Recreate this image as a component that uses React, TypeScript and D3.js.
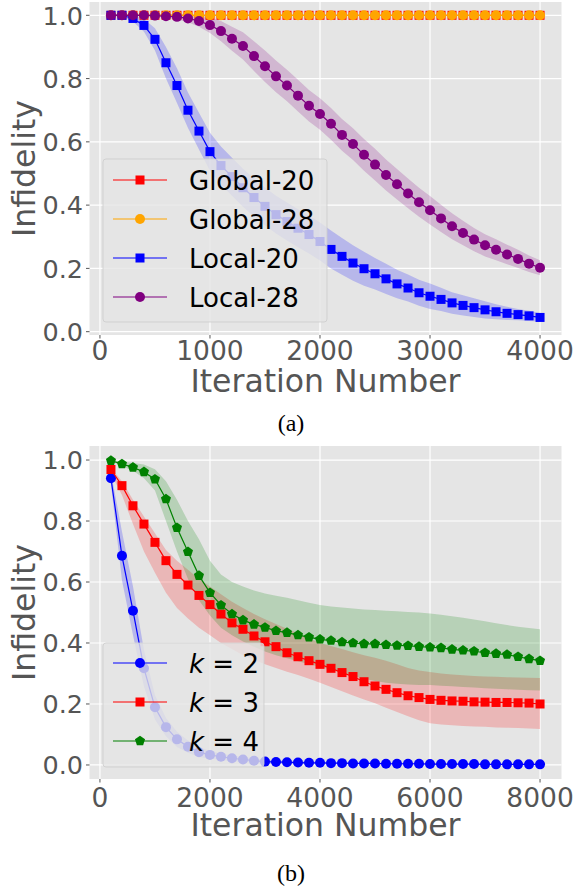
import React from "react";
import * as d3 from "d3";

// iteration grids
const topIters = d3.range(100, 4001, 100);
const bottomIters = d3.range(200, 8001, 200);

// (a) values
const global20 = [
  1, 1, 1, 1, 1, 1, 1, 1, 1, 1, 1, 1, 1, 1, 1, 1, 1, 1, 1, 1,
  1, 1, 1, 1, 1, 1, 1, 1, 1, 1, 1, 1, 1, 1, 1, 1, 1, 1, 1, 1,
];
const global28 = [
  1, 1, 1, 1, 1, 1, 1, 1, 1, 1, 1, 1, 1, 1, 1, 1, 1, 1, 1, 1,
  1, 1, 1, 1, 1, 1, 1, 1, 1, 1, 1, 1, 1, 1, 1, 1, 1, 1, 1, 1,
];
const local20 = [
  1.0, 1.0, 0.99, 0.968, 0.924, 0.85, 0.778, 0.7, 0.634, 0.569,
  0.525, 0.49, 0.455, 0.424, 0.396, 0.37, 0.348, 0.327, 0.307, 0.285,
  0.26, 0.238, 0.217, 0.199, 0.183, 0.167, 0.151, 0.138, 0.123, 0.112,
  0.102, 0.091, 0.083, 0.076, 0.069, 0.063, 0.058, 0.054, 0.05, 0.045,
];
const local20Std = [
  0.002, 0.005, 0.01, 0.02, 0.035, 0.05, 0.055, 0.056, 0.058, 0.06,
  0.06, 0.06, 0.06, 0.06, 0.06, 0.06, 0.06, 0.06, 0.06, 0.06,
  0.06, 0.058, 0.056, 0.054, 0.05, 0.048, 0.045, 0.043, 0.041, 0.04,
  0.037, 0.034, 0.032, 0.03, 0.027, 0.024, 0.021, 0.018, 0.016, 0.014,
];
const local28 = [
  1.0, 1.0, 1.0, 1.0, 0.999, 0.997, 0.995, 0.99, 0.982, 0.969,
  0.95, 0.926, 0.903, 0.871, 0.839, 0.807, 0.778, 0.746, 0.714, 0.688,
  0.657, 0.622, 0.593, 0.559, 0.528, 0.495, 0.466, 0.437, 0.409, 0.384,
  0.358, 0.333, 0.312, 0.291, 0.273, 0.259, 0.244, 0.23, 0.215, 0.202,
];
const local28Std = [
  0.002, 0.002, 0.003, 0.003, 0.004, 0.005, 0.008, 0.012, 0.018, 0.025,
  0.032, 0.038, 0.043, 0.047, 0.05, 0.05, 0.05, 0.05, 0.05, 0.05,
  0.05, 0.05, 0.05, 0.05, 0.05, 0.049, 0.048, 0.047, 0.046, 0.045,
  0.043, 0.041, 0.039, 0.037, 0.035, 0.033, 0.031, 0.029, 0.026, 0.024,
];

// (b) values
const k2 = [
  0.94, 0.686, 0.506, 0.317, 0.189, 0.124, 0.084, 0.06, 0.042, 0.033,
  0.027, 0.022, 0.018, 0.014, 0.011, 0.01, 0.009, 0.008, 0.007, 0.007,
  0.006, 0.006, 0.005, 0.005, 0.005, 0.004, 0.004, 0.004, 0.004, 0.003,
  0.003, 0.003, 0.003, 0.003, 0.002, 0.002, 0.002, 0.002, 0.002, 0.002,
];
const k2Std = [
  0.02, 0.08, 0.08, 0.06, 0.04, 0.03, 0.025, 0.02, 0.016, 0.013,
  0.011, 0.009, 0.008, 0.007, 0.006, 0.005, 0.005, 0.005, 0.004, 0.004,
  0.004, 0.004, 0.003, 0.003, 0.003, 0.003, 0.003, 0.003, 0.003, 0.003,
  0.003, 0.003, 0.003, 0.003, 0.002, 0.002, 0.002, 0.002, 0.002, 0.002,
];
const k3 = [
  0.969, 0.916, 0.85, 0.79, 0.73, 0.67, 0.625, 0.59, 0.556, 0.526,
  0.495, 0.466, 0.445, 0.423, 0.404, 0.388, 0.368, 0.355, 0.342, 0.33,
  0.317, 0.303, 0.29, 0.273, 0.259, 0.248, 0.237, 0.227, 0.221, 0.215,
  0.212, 0.21, 0.209, 0.207, 0.206, 0.205, 0.205, 0.204, 0.203, 0.2,
];
const k3Lower = [
  0.955, 0.885, 0.79, 0.7, 0.63, 0.565, 0.515, 0.48, 0.45, 0.425,
  0.4, 0.38, 0.36, 0.345, 0.33, 0.318, 0.306, 0.295, 0.283, 0.27,
  0.256, 0.242, 0.228, 0.215, 0.202, 0.188, 0.174, 0.16, 0.147, 0.137,
  0.133, 0.13, 0.128, 0.126, 0.125, 0.123, 0.122, 0.121, 0.12, 0.118,
];
const k3Upper = [
  0.975, 0.93, 0.87, 0.815, 0.76, 0.705, 0.67, 0.64, 0.61, 0.585,
  0.56, 0.535, 0.515, 0.495, 0.478, 0.462, 0.447, 0.432, 0.415, 0.4,
  0.39, 0.38, 0.37, 0.36, 0.352, 0.342, 0.33, 0.318, 0.31, 0.305,
  0.3, 0.297, 0.294, 0.292, 0.29, 0.289, 0.288, 0.287, 0.286, 0.285,
];
const k4 = [
  0.998, 0.987, 0.976, 0.961, 0.937, 0.872, 0.778, 0.699, 0.621, 0.565,
  0.524, 0.495, 0.475, 0.461, 0.451, 0.44, 0.434, 0.426, 0.419, 0.412,
  0.408, 0.403, 0.4, 0.397, 0.397, 0.394, 0.392, 0.391, 0.388, 0.386,
  0.384, 0.379, 0.376, 0.373, 0.368, 0.365, 0.362, 0.355, 0.348, 0.342,
];
const k4Lower = [
  0.996, 0.98, 0.965, 0.94, 0.9, 0.8, 0.7, 0.61, 0.54, 0.49,
  0.45, 0.425, 0.405, 0.388, 0.372, 0.36, 0.35, 0.34, 0.33, 0.322,
  0.312, 0.302, 0.292, 0.283, 0.275, 0.27, 0.266, 0.264, 0.262, 0.262,
  0.26, 0.258, 0.256, 0.254, 0.252, 0.25, 0.248, 0.247, 0.245, 0.244,
];
const k4Upper = [
  1.0, 0.995, 0.99, 0.985, 0.97, 0.93, 0.87, 0.8, 0.74, 0.67,
  0.625, 0.6, 0.585, 0.572, 0.562, 0.555, 0.548, 0.54, 0.532, 0.525,
  0.52, 0.516, 0.513, 0.51, 0.508, 0.506, 0.504, 0.502, 0.5, 0.497,
  0.493, 0.488, 0.483, 0.477, 0.471, 0.465, 0.459, 0.453, 0.449, 0.445,
];

const topXTicks = [0, 1000, 2000, 3000, 4000];
const bottomXTicks = [0, 2000, 4000, 6000, 8000];
const yTicks = [0, 0.2, 0.4, 0.6, 0.8, 1.0];

const FONT = "DejaVu Sans";
const TXT = "#555555";
const BG = "#E5E5E5";

type Marker = "square" | "circle" | "pentagon";
type Series = {
  label: React.ReactNode;
  color: string;
  marker: Marker;
  values: number[];
  lower: number[];
  upper: number[];
};

const withStd = (v: number[], s: number[]) => ({
  lower: v.map((d, i) => d - s[i]),
  upper: v.map((d, i) => d + s[i]),
});

const topSeries: Series[] = [
  { label: "Global-20", color: "red", marker: "square", values: global20, lower: global20, upper: global20 },
  { label: "Global-28", color: "orange", marker: "circle", values: global28, lower: global28, upper: global28 },
  { label: "Local-20", color: "blue", marker: "square", values: local20, ...withStd(local20, local20Std) },
  { label: "Local-28", color: "purple", marker: "circle", values: local28, ...withStd(local28, local28Std) },
];

const kLabel = (k: number) => (
  <>
    <tspan fontStyle="italic">k</tspan>
    <tspan> = {k}</tspan>
  </>
);

const bottomSeries: Series[] = [
  { label: kLabel(2), color: "blue", marker: "circle", values: k2, ...withStd(k2, k2Std) },
  { label: kLabel(3), color: "red", marker: "square", values: k3, lower: k3Lower, upper: k3Upper },
  { label: kLabel(4), color: "green", marker: "pentagon", values: k4, lower: k4Lower, upper: k4Upper },
];

function MarkerShape({ type, x, y, color }: { type: Marker; x: number; y: number; color: string }) {
  if (type === "square") {
    return <rect x={x - 4.5} y={y - 4.5} width={9} height={9} fill={color} />;
  }
  if (type === "circle") {
    return <circle cx={x} cy={y} r={5} fill={color} />;
  }
  const r = 5.3;
  const pts = d3.range(5).map((i) => {
    const a = -Math.PI / 2 + (i * 2 * Math.PI) / 5;
    return [x + r * Math.cos(a), y + r * Math.sin(a)];
  });
  return <polygon points={pts.map((p) => p.join(",")).join(" ")} fill={color} />;
}

type PanelProps = {
  top: number;
  iters: number[];
  xDomain: [number, number];
  yDomain: [number, number];
  xTicks: number[];
  series: Series[];
  legendBox: { x: number; y: number; w: number; h: number };
  legendRow0: number;
  caption: string;
  xTickDy: number;
  captionDy: number;
};

function Panel(p: PanelProps) {
  const left = 89.5;
  const right = 561.5;
  const height = 333;
  const bottom = p.top + height;
  const x = d3.scaleLinear().domain(p.xDomain).range([left, right]);
  const y = d3.scaleLinear().domain(p.yDomain).range([bottom, p.top]);

  const line = d3
    .line<number>()
    .x((_, i) => x(p.iters[i]))
    .y((d) => y(d));

  const band = (s: Series) =>
    d3
      .area<number>()
      .x((_, i) => x(p.iters[i]))
      .y0((_, i) => y(s.lower[i]))
      .y1((_, i) => y(s.upper[i]))(s.values) || "";

  const lg = p.legendBox;

  return (
    <g>
      <rect x={left} y={p.top} width={right - left} height={height} fill={BG} />
      {p.xTicks.map((t) => (
        <line key={"gx" + t} x1={x(t)} x2={x(t)} y1={p.top} y2={bottom} stroke="white" strokeWidth={1.2} />
      ))}
      {yTicks.map((t) => (
        <line key={"gy" + t} x1={left} x2={right} y1={y(t)} y2={y(t)} stroke="white" strokeWidth={1.2} />
      ))}

      {p.series.map((s, i) => (
        <path key={"b" + i} d={band(s)} fill={s.color} fillOpacity={0.2} stroke="none" />
      ))}
      {p.series.map((s, i) => (
        <g key={"s" + i}>
          <path d={line(s.values) || ""} fill="none" stroke={s.color} strokeWidth={1.2} />
          {s.values.map((v, j) => (
            <MarkerShape key={j} type={s.marker} x={x(p.iters[j])} y={y(v)} color={s.color} />
          ))}
        </g>
      ))}

      {/* legend */}
      <rect x={lg.x} y={lg.y} width={lg.w} height={lg.h} rx={3} fill={BG} fillOpacity={0.8} stroke="#cccccc" strokeOpacity={0.8} />
      {p.series.map((s, i) => {
        const cy = p.legendRow0 + i * 39;
        return (
          <g key={"l" + i}>
            <line x1={lg.x + 10} x2={lg.x + 64} y1={cy} y2={cy} stroke={s.color} strokeWidth={1.2} />
            <MarkerShape type={s.marker} x={lg.x + 37} y={cy} color={s.color} />
            <text x={lg.x + 86} y={cy + 9.5} fontSize={26} fontFamily={FONT} fill="black">
              {s.label}
            </text>
          </g>
        );
      })}

      {/* axes */}
      {yTicks.map((t) => (
        <g key={"ty" + t}>
          <line x1={left - 3.5} x2={left} y1={y(t)} y2={y(t)} stroke={TXT} strokeWidth={1} />
          <text x={left - 6.5} y={y(t) + 9.3} textAnchor="end" fontSize={25.5} fontFamily={FONT} fill={TXT}>
            {t.toFixed(1)}
          </text>
        </g>
      ))}
      {p.xTicks.map((t) => (
        <g key={"tx" + t}>
          <line x1={x(t)} x2={x(t)} y1={bottom} y2={bottom + 3.5} stroke={TXT} strokeWidth={1} />
          <text x={x(t)} y={bottom + p.xTickDy} textAnchor="middle" fontSize={26.5} fontFamily={FONT} fill={TXT}>
            {t}
          </text>
        </g>
      ))}
      <text
        transform={`translate(35,${(p.top + bottom) / 2}) rotate(-90)`}
        textAnchor="middle"
        fontSize={31.5}
        fontFamily={FONT}
        fill={TXT}
      >
        Infidelity
      </text>
      <text x={(left + right) / 2} y={bottom + 57} textAnchor="middle" fontSize={31.5} fontFamily={FONT} fill={TXT}>
        Iteration Number
      </text>
      <text
        x={291}
        y={bottom + p.captionDy}
        textAnchor="middle"
        fontSize={24}
        fontFamily="Liberation Serif"
        fill="black"
      >
        {p.caption}
      </text>
    </g>
  );
}

export default function App() {
  return (
    <svg width={576} height={888} style={{ position: "absolute", left: 0, top: 0, background: "white" }}>
      <Panel
        top={2}
        iters={topIters}
        xDomain={[-95, 4195]}
        yDomain={[-0.0105, 1.042]}
        xTicks={topXTicks}
        series={topSeries}
        legendBox={{ x: 103, y: 159, w: 224, h: 163 }}
        legendRow0={180}
        caption="(a)"
        xTickDy={25}
        captionDy={96}
      />
      <Panel
        top={446}
        iters={bottomIters}
        xDomain={[-190, 8390]}
        yDomain={[-0.046, 1.046]}
        xTicks={bottomXTicks}
        series={bottomSeries}
        legendBox={{ x: 103, y: 643, w: 161, h: 124 }}
        legendRow0={663}
        caption="(b)"
        xTickDy={27.5}
        captionDy={102}
      />
    </svg>
  );
}
